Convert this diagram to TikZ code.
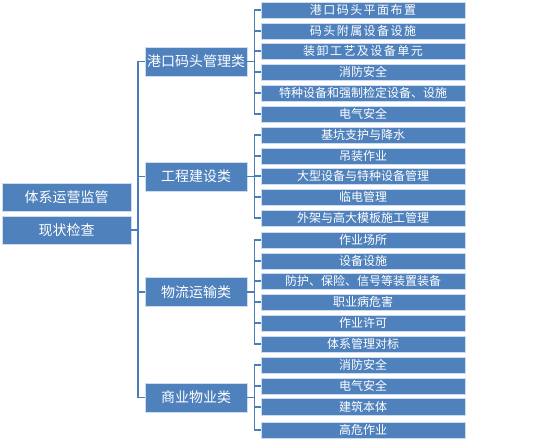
\documentclass[tikz,border=0pt]{standalone}
\usepackage{fontspec}
\setmainfont{Noto Sans CJK SC}
\definecolor{boxblue}{RGB}{79,129,189}
\definecolor{lineblue}{RGB}{74,126,187}
\definecolor{edgelight}{RGB}{205,220,238}
\tikzset{
  base/.style={fill=boxblue, draw=edgelight, line width=0.8pt, text=white, inner sep=0pt, anchor=center},
  leaf/.style={base, minimum width=204pt, minimum height=16pt, font=\fontsize{12}{12}\selectfont},
  wide/.style={font=\fontsize{12}{12}\selectfont\addfontfeature{LetterSpace=12}},
  cat/.style={base, minimum width=102pt, minimum height=29pt, font=\fontsize{14}{16}\selectfont},
  topbox/.style={base, minimum width=129pt, minimum height=28pt, font=\fontsize{14}{16}\selectfont},
  link/.style={draw=lineblue, line width=1.5pt}
}
\begin{document}
\begin{tikzpicture}[x=1pt,y=-1pt]
\useasboundingbox (0,0) rectangle (559,442);
% top level
\node[topbox] (t1) at (66.5,197) {体系运营监管};
\node[topbox] (t2) at (66.5,230) {现状检查};
% categories
\node[cat] (c1) at (196,61.5) {港口码头管理类};
\node[cat] (c2) at (196,176.5) {工程建设类};
\node[cat] (c3) at (196,292) {物流运输类};
\node[cat] (c4) at (196,397.5) {商业物业类};
% leaves group 1
\node[leaf, wide] (a1) at (363,10) {港口码头平面布置};
\node[leaf, wide] (a2) at (363,31) {码头附属设备设施};
\node[leaf, wide] (a3) at (363,51) {装卸工艺及设备单元};
\node[leaf] (a4) at (363,72) {消防安全};
\node[leaf] (a5) at (363,93) {特种设备和强制检定设备、设施};
\node[leaf] (a6) at (363,114) {电气安全};
% group 2
\node[leaf] (b1) at (363,135) {基坑支护与降水};
\node[leaf] (b2) at (363,156) {吊装作业};
\node[leaf] (b3) at (363,176) {大型设备与特种设备管理};
\node[leaf] (b4) at (363,197) {临电管理};
\node[leaf] (b5) at (363,218) {外架与高大模板施工管理};
% group 3
\node[leaf] (d1) at (363,240) {作业场所};
\node[leaf] (d2) at (363,261) {设备设施};
\node[leaf] (d3) at (363,281) {防护、保险、信号等装置装备};
\node[leaf] (d4) at (363,302) {职业病危害};
\node[leaf] (d5) at (363,323) {作业许可};
\node[leaf] (d6) at (363,344) {体系管理对标};
% group 4
\node[leaf] (e1) at (363,365) {消防安全};
\node[leaf] (e2) at (363,386) {电气安全};
\node[leaf, minimum height=17pt] (e3) at (363,407) {建筑本体};
\node[leaf] (e4) at (363,430) {高危作业};
% left bracket
\coordinate (lj) at (138,230);
\draw[link] (t2.east) -- (lj);
\draw[link] (c1.west) -- (c1.west -| lj) -- (c4.west -| lj) -- (c4.west);
\draw[link] (c2.west -| lj) -- (c2.west);
\draw[link] (c3.west -| lj) -- (c3.west);
% group brackets
\foreach \c/\first/\last/\list in {c1/a1/a6/{a1,a2,a3,a4,a5,a6}, c2/b1/b5/{b1,b2,b3,b4,b5}, c3/d1/d6/{d1,d2,d3,d4,d5,d6}, c4/e1/e4/{e1,e2,e3,e4}}{
  \coordinate (j) at ([xshift=7pt]\c.east);
  \draw[link] (\c.east) -- (j);
  \draw[link] (\first.west -| j) -- (\last.west -| j);
  \foreach \l in \list { \draw[link] (\l.west -| j) -- (\l.west); }
}
\end{tikzpicture}
\end{document}
